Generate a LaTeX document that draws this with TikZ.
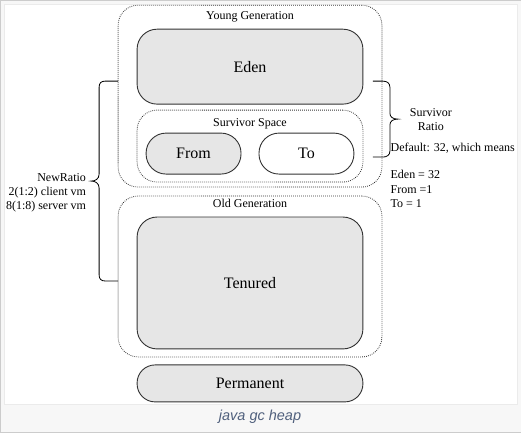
\documentclass[tikz,border=0pt]{standalone}
\usepackage{fontspec}
\setmainfont{Liberation Serif}
\newfontfamily\capfont{Liberation Sans}
\definecolor{boxfill}{HTML}{E6E6E6}
\definecolor{boxline}{HTML}{333333}
\definecolor{dotline}{HTML}{333333}
\definecolor{capcol}{RGB}{80,96,125}
\definecolor{bandcol}{HTML}{F7F7F7}
\tikzset{
  solidbox/.style={draw=boxline, line width=0.9pt, fill=boxfill, rounded corners=20pt, inner sep=0pt, font=\fontsize{16}{19}\selectfont},
  dotbox/.style={draw=dotline, line width=0.8pt, dash pattern=on 0.8pt off 1.2pt, rounded corners=20pt, inner sep=0pt},
  lbl/.style={inner sep=0pt, font=\fontsize{12}{14}\selectfont},
  bracepath/.style={draw=black, line width=0.8pt},
}
\begin{document}
\begin{tikzpicture}[x=1pt,y=-1pt]
  % frame
  \path[fill=bandcol, draw=black!20] (0,0) rectangle (521,432);
  \useasboundingbox (0,0) rectangle (521,432);
  \path[fill=white, draw=black!8] (4,4) rectangle (517,404);

  % containers
  \node[dotbox, minimum width=264pt, minimum height=182pt] (young) at (250,96) {};
  \node[dotbox, minimum width=264pt, minimum height=161pt] (old) at (250,276.5) {};
  \node[dotbox, minimum width=226pt, minimum height=72pt] (surv) at (250,146) {};

  % boxes
  \node[solidbox, minimum width=226pt, minimum height=75pt] (eden) at (250,66.5) {Eden};
  \node[solidbox, minimum width=95pt, minimum height=41pt] (from) at (193.5,153.5) {From};
  \node[solidbox, fill=white, minimum width=95pt, minimum height=41pt] (to) at (306.5,153.5) {To};
  \node[solidbox, minimum width=226pt, minimum height=132pt] (tenured) at (250,283) {Tenured};
  \node[solidbox, rounded corners=18pt, minimum width=226pt, minimum height=37pt] (perm) at (250,383.5) {Permanent};

  % container labels
  \node[lbl] (younglbl) at (250,17) {Young Generation};
  \node[lbl] (survlbl) at (250,124) {Survivor Space};
  \node[lbl] (oldlbl) at (250,203.5) {Old Generation};

  % left brace (NewRatio)
  \coordinate (lbtop) at (118,81);
  \coordinate (lbbot) at (118,281);
  \path[bracepath] (lbtop) -- (105,81) .. controls (101,81) and (99,83) .. (99,87)
    -- (99,174) .. controls (99,179) and (95,181) .. (91,181)
    .. controls (95,181) and (99,183) .. (99,188)
    -- (99,275) .. controls (99,279) and (101,281) .. (105,281) -- (lbbot);
  \node[lbl, align=right, anchor=east] (newratio) at (86,193) {NewRatio\\2(1:2) client vm\\8(1:8) server vm};

  % right brace (SurvivorRatio)
  \coordinate (rbtop) at (373,81);
  \coordinate (rbbot) at (373,157);
  \path[bracepath] (rbtop) -- (383,81) .. controls (387,81) and (390,83) .. (390,87)
    -- (390,113) .. controls (390,117) and (393,119) .. (398,119)
    .. controls (393,119) and (390,121) .. (390,125)
    -- (390,151) .. controls (390,155) and (387,157) .. (383,157) -- (rbbot);
  \node[lbl, align=center] (survratio) at (431,119) {Survivor\\Ratio};
  \node[lbl, anchor=west] (default) at (390.5,148) {Default: 32, which means};
  \node[lbl, align=left, anchor=north west, font=\fontsize{12}{14.5}\selectfont] (ratios) at (390.5,170) {Eden = 32\\From =1\\To = 1};

  % caption
  \node[inner sep=0pt, text=capcol, font=\capfont\itshape\fontsize{14.5}{16}\selectfont] (caption) at (260,417) {java gc heap};
\end{tikzpicture}
\end{document}
